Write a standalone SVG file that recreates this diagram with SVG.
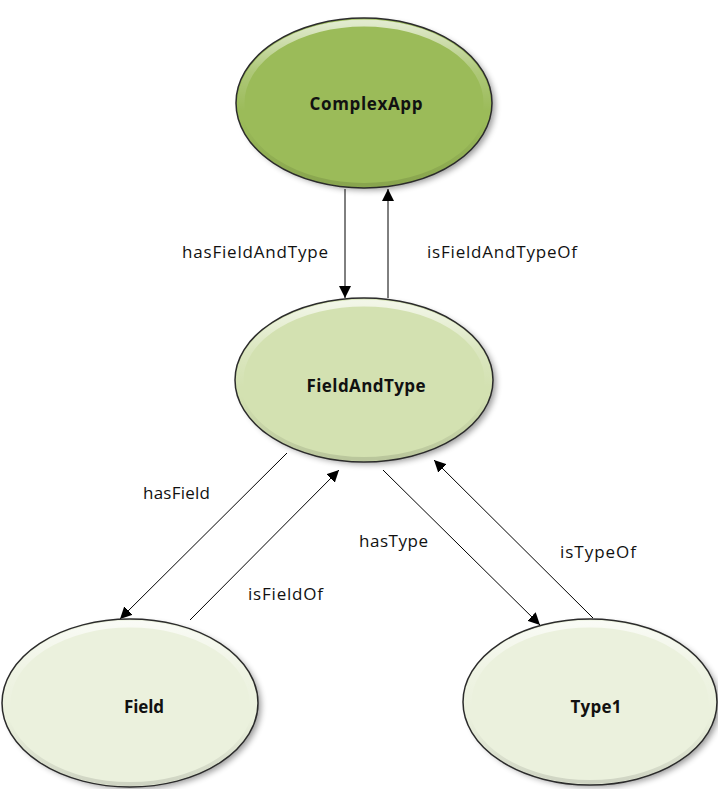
<svg xmlns="http://www.w3.org/2000/svg" width="718" height="789" viewBox="0 0 718 789">
  <style>
    .rim { stroke: #2b2b2b; stroke-width: 1.5; }
    .node-label { font-family: "Open Sans", "Liberation Sans", sans-serif; font-weight: bold; font-size: 17px; fill: #111; text-anchor: middle; }
    .edge-label { font-family: "Open Sans", "Liberation Sans", sans-serif; font-size: 17px; fill: #111; }
    .edge { stroke: #000; stroke-width: 1; fill: none; marker-end: url(#arrow); }
    .hi { fill: none; stroke: url(#topHighlight); stroke-width: 7; }
    .lo { fill: none; stroke: url(#bottomShade); stroke-width: 4; }
  </style>
  <defs>
    <marker id="arrow" viewBox="0 0 10 10" refX="10" refY="5" markerWidth="12" markerHeight="12" markerUnits="userSpaceOnUse" orient="auto">
      <path d="M0,0 L10,5 L0,10 z" fill="#000"/>
    </marker>
    <linearGradient id="topHighlight" x1="0" y1="0" x2="0" y2="1">
      <stop offset="0" stop-color="#fff" stop-opacity="0.7"/>
      <stop offset="0.3" stop-color="#fff" stop-opacity="0.2"/>
      <stop offset="0.55" stop-color="#fff" stop-opacity="0"/>
    </linearGradient>
    <linearGradient id="bottomShade" x1="0" y1="0" x2="0" y2="1">
      <stop offset="0.6" stop-color="#000" stop-opacity="0"/>
      <stop offset="1" stop-color="#000" stop-opacity="0.12"/>
    </linearGradient>
    <filter id="shadow" x="-20%" y="-20%" width="140%" height="140%">
      <feGaussianBlur stdDeviation="3"/>
    </filter>
  </defs>

  <!-- connectors -->
  <g id="connectors">
    <line class="edge" x1="345" y1="189" x2="345" y2="298"/>
    <line class="edge" x1="388" y1="298" x2="388" y2="189"/>
    <line class="edge" x1="287" y1="453" x2="120" y2="619"/>
    <line class="edge" x1="190" y1="620" x2="339" y2="470"/>
    <line class="edge" x1="383" y1="470" x2="540" y2="625"/>
    <line class="edge" x1="593" y1="618" x2="434" y2="460"/>
    <text class="edge-label" x="182" y="258" textLength="146">hasFieldAndType</text>
    <text class="edge-label" x="427" y="258" textLength="150">isFieldAndTypeOf</text>
    <text class="edge-label" x="143" y="499" textLength="67">hasField</text>
    <text class="edge-label" x="248" y="600" textLength="75">isFieldOf</text>
    <text class="edge-label" x="359" y="547" textLength="69">hasType</text>
    <text class="edge-label" x="560" y="558" textLength="76">isTypeOf</text>
  </g>

  <g id="ComplexApp">
    <ellipse cx="368" cy="106" rx="127" ry="84" fill="#000" opacity="0.4" filter="url(#shadow)"/>
    <ellipse class="rim" cx="364" cy="103" rx="128" ry="85" fill="#9bbb59"/>
    <ellipse class="hi" cx="364" cy="103" rx="123" ry="80"/>
    <ellipse class="lo" cx="364" cy="103" rx="125" ry="82"/>
    <text class="node-label" x="366" y="110" textLength="113">ComplexApp</text>
  </g>

  <g id="FieldAndType">
    <ellipse cx="368" cy="383" rx="128" ry="81" fill="#000" opacity="0.4" filter="url(#shadow)"/>
    <ellipse class="rim" cx="364" cy="380" rx="129" ry="82" fill="#d3e1b1"/>
    <ellipse class="hi" cx="364" cy="380" rx="124" ry="77"/>
    <ellipse class="lo" cx="364" cy="380" rx="126" ry="79"/>
    <text class="node-label" x="366" y="392" textLength="119">FieldAndType</text>
  </g>

  <g id="Field">
    <ellipse cx="134" cy="706" rx="127" ry="83" fill="#000" opacity="0.4" filter="url(#shadow)"/>
    <ellipse class="rim" cx="130" cy="703" rx="128" ry="84" fill="#ebf1dd"/>
    <ellipse class="hi" cx="130" cy="703" rx="123" ry="79"/>
    <ellipse class="lo" cx="130" cy="703" rx="125" ry="81"/>
    <text class="node-label" x="144" y="713" textLength="40">Field</text>
  </g>

  <g id="Type1">
    <ellipse cx="594" cy="705" rx="126" ry="82" fill="#000" opacity="0.4" filter="url(#shadow)"/>
    <ellipse class="rim" cx="590" cy="702" rx="127" ry="83" fill="#ebf1dd"/>
    <ellipse class="hi" cx="590" cy="702" rx="122" ry="78"/>
    <ellipse class="lo" cx="590" cy="702" rx="124" ry="80"/>
    <text class="node-label" x="596" y="713" textLength="51">Type1</text>
  </g>
</svg>
